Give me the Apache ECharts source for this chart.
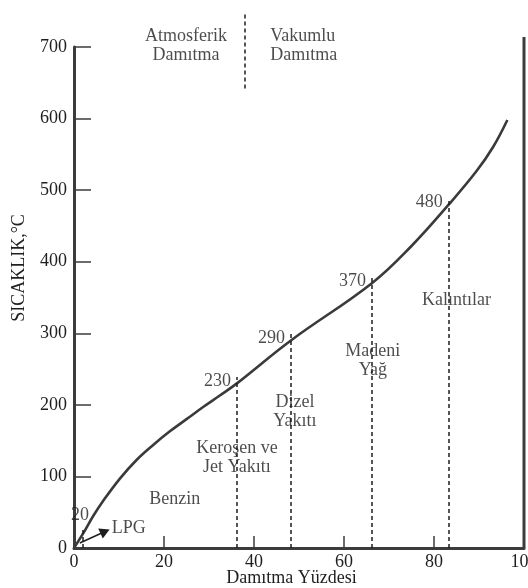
<!DOCTYPE html>
<html>
<head>
<meta charset="utf-8">
<script src="https://cdn.jsdelivr.net/npm/echarts@6/dist/echarts.min.js"></script>
<style>
  html, body { margin: 0; padding: 0; background: #fff; }
  #chart { width: 528px; height: 588px; }
</style>
</head>
<body>
<div id="chart"></div>
<script>
// Distillation curve: temperature vs. percent distilled
const pctDistilled = [0, 2, 4.3, 6.5, 10.2, 13.9, 17.6, 21.3, 25, 28.7, 32.4, 36.2, 48.2, 66.2, 75, 83.3, 89.5, 93.2, 96.3];
const temperature  = [0, 20, 45, 66, 97, 123, 144, 163, 180, 197, 213, 230, 290, 370, 422, 480, 527, 561, 598];

// Cut points between fractions (percent, temperature)
const cutPct  = [2, 36.2, 48.2, 66.2, 83.3];
const cutTemp = [20, 230, 290, 370, 480];

// Axis ticks
const xTicks = [0, 20, 40, 60, 80, 100];
const yTicks = [0, 100, 200, 300, 400, 500, 600, 700];

// Fraction names and where they sit (percent, temperature)
const fractionNames = ['Benzin', 'Keroşen ve\nJet Yakıtı', 'Dizel\nYakıtı', 'Madeni\nYağ', 'Kalıntılar'];
const fractionAt = [[22.4, 68.5], [36.2, 126], [49.1, 190], [66.4, 261], [85, 346]];

// Headings above the plot, split by a dashed divider
const headingNames = ['Atmosferik\nDamıtma', 'Vakumlu\nDamıtma'];
const headingAt = [[24.9, 702], [43.6, 702]];
const headingDivider = [38, 642, 749];     // percent, from, to
const rightBorder = [100, 0, 714];         // percent, from, to

const lpgText = 'LPG';
const lpgAt = [8.4, 28];
const lpgArrow = [[1.3, 7], [6.9, 23]];

const ink = '#1e1e1e';
const axisInk = '#3c3c3c';
const serif = '"Liberation Serif", "DejaVu Serif", serif';
const fs = 18;

const chart = echarts.init(document.getElementById('chart'), null, { renderer: 'canvas' });

const dashed = { color: ink, width: 1.5, type: [4, 3] };

const cutLines = cutPct.map((p, i) => [
  { coord: [p, 0], lineStyle: dashed, symbol: 'none' },
  { coord: [p, cutTemp[i] + 9], symbol: 'none' }
]);

// vertical segment drawn through the axes (may reach above the plot area)
function verticalSegment(style) {
  return function (params, api) {
    const a = api.coord([api.value(0), api.value(1)]);
    const b = api.coord([api.value(0), api.value(2)]);
    return {
      type: 'line',
      shape: { x1: a[0], y1: a[1], x2: b[0], y2: b[1] },
      style: style
    };
  };
}

const option = {
  animation: false,
  backgroundColor: '#fff',
  grid: { left: 74, right: 4, top: 47, bottom: 40, containLabel: false, outerBoundsMode: 'none' },
  xAxis: {
    type: 'value',
    min: xTicks[0], max: xTicks[xTicks.length - 1], interval: 20,
    name: 'Damıtma Yüzdesi',
    nameLocation: 'middle',
    nameGap: 21,
    nameMoveOverlap: false,
    nameTextStyle: { fontFamily: serif, fontSize: fs, color: ink, padding: [0, 15, 0, 0] },
    axisLine: { show: true, lineStyle: { color: axisInk, width: 3 } },
    axisTick: { show: true, inside: true, length: 12, lineStyle: { color: axisInk, width: 1.5 } },
    axisLabel: { fontFamily: serif, fontSize: fs, color: ink, margin: 5 },
    splitLine: { show: false }
  },
  yAxis: {
    type: 'value',
    min: yTicks[0], max: yTicks[yTicks.length - 1], interval: 100,
    axisLine: { show: true, lineStyle: { color: axisInk, width: 3 } },
    axisTick: { show: true, inside: true, length: 17, lineStyle: { color: axisInk, width: 1.5 } },
    axisLabel: { fontFamily: serif, fontSize: fs, color: ink, margin: 7 },
    splitLine: { show: false }
  },
  graphic: [{
    type: 'text',
    x: 19, y: 268,
    rotation: Math.PI / 2,
    style: {
      text: 'SICAKLIK,°C',
      fontFamily: serif, fontSize: fs, fill: ink,
      align: 'center', verticalAlign: 'middle'
    }
  }],
  series: [
    {
      type: 'line',
      data: pctDistilled.map((p, i) => [p, temperature[i]]),
      smooth: 0.4,
      symbol: 'none',
      clip: false,
      lineStyle: { color: '#3a3a3a', width: 2.6 },
      markLine: {
        silent: true,
        symbol: 'none',
        label: { show: false },
        data: cutLines.concat([
          [
            { coord: lpgArrow[0], lineStyle: { color: ink, width: 1.5, type: 'solid' }, symbol: 'none' },
            { coord: lpgArrow[1], symbol: 'triangle', symbolSize: [11, 10] }
          ]
        ])
      }
    },
    {
      // divider between the two headings
      type: 'custom',
      clip: false,
      silent: true,
      data: [headingDivider],
      renderItem: verticalSegment({ stroke: ink, lineWidth: 1.5, lineDash: [4, 3] })
    },
    {
      // right-hand frame line
      type: 'custom',
      clip: false,
      silent: true,
      data: [rightBorder],
      renderItem: verticalSegment({ stroke: axisInk, lineWidth: 3 })
    },
    {
      // temperature values at cut points
      type: 'scatter',
      data: cutPct.map((p, i) => [p, cutTemp[i]]),
      symbolSize: 0,
      silent: true,
      label: {
        show: true,
        position: 'left',
        distance: 6,
        formatter: (d) => String(d.value[1]),
        fontFamily: serif, fontSize: fs, color: ink
      },
      labelLayout: (params) => params.dataIndex === 0 ? { dx: 12, dy: -18 } : { dy: -2 }
    },
    {
      // fraction names
      type: 'scatter',
      data: fractionAt.map((c, i) => ({ value: c, name: fractionNames[i] })),
      symbolSize: 0,
      silent: true,
      label: {
        show: true, position: 'inside',
        formatter: (d) => d.name,
        fontFamily: serif, fontSize: fs, color: ink, lineHeight: 19, align: 'center'
      }
    },
    {
      // headings above the plot and LPG tag
      type: 'scatter',
      clip: false,
      data: [
        { value: headingAt[0], name: headingNames[0], label: { align: 'center', position: 'inside' } },
        { value: headingAt[1], name: headingNames[1], label: { align: 'left', position: 'right', distance: 0 } },
        { value: lpgAt, name: lpgText, label: { align: 'left', position: 'right', distance: 0 } }
      ],
      symbolSize: 0,
      silent: true,
      label: {
        show: true,
        formatter: (d) => d.name,
        fontFamily: serif, fontSize: fs, color: ink, lineHeight: 19
      }
    }
  ]
};

chart.setOption(option);
</script>
</body>
</html>
